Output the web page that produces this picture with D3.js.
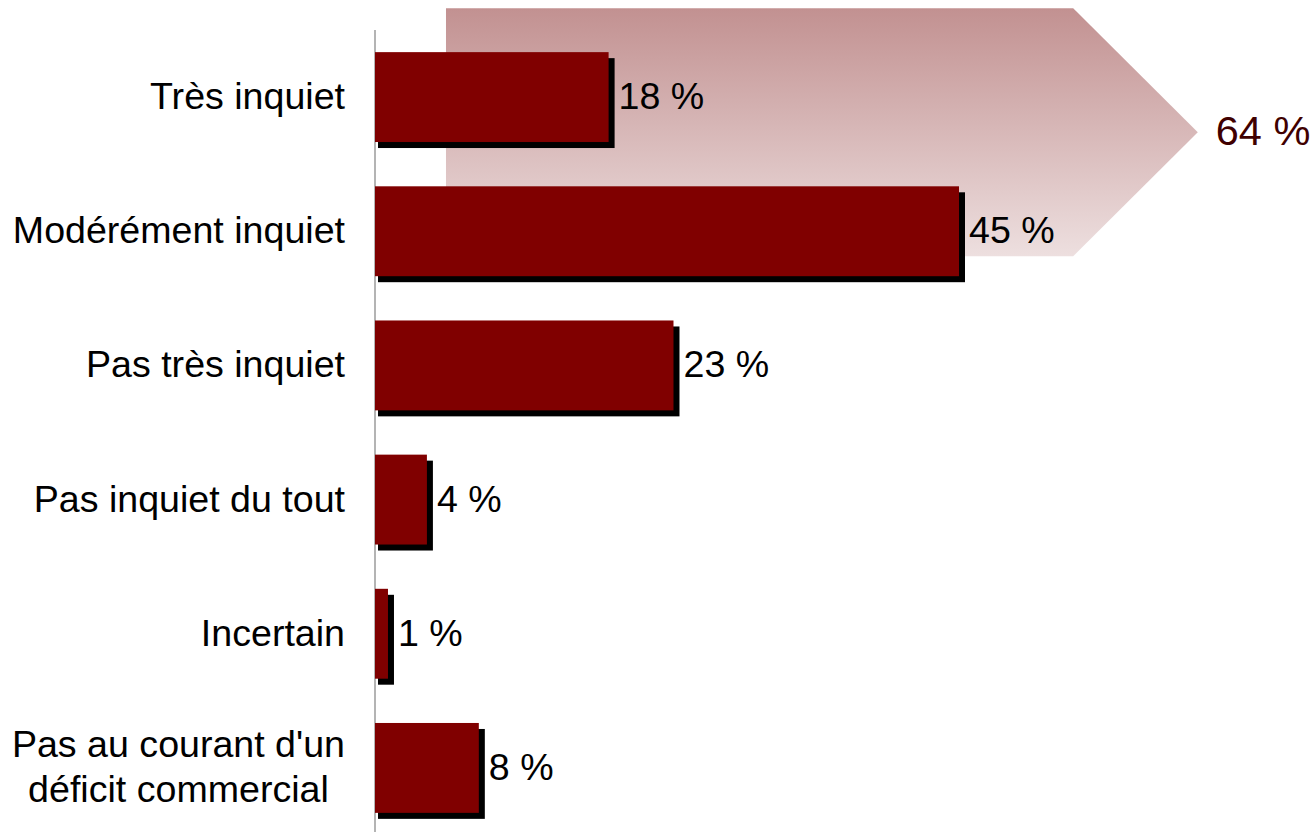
<!DOCTYPE html>
<html>
<head>
<meta charset="utf-8">
<script src="https://cdn.jsdelivr.net/npm/d3@7"></script>
<style>
    body { margin: 0; background: #fff; }
    svg { display: block; font-family: "Liberation Sans", Arial, sans-serif; }
</style>
</head>
<body>
<svg id="chart" width="1316" height="832"></svg>
<script>
// categories and values
const categories = [
    ["Très inquiet"],
    ["Modérément inquiet"],
    ["Pas très inquiet"],
    ["Pas inquiet du tout"],
    ["Incertain"],
    ["Pas au courant d'un", "déficit commercial"]
];
const values = [18, 45, 23, 4, 1, 8];
const totalLabel = "64 %";
// the arrow groups the first two answers
const groupedIdx = [0, 1];

const svg = d3.select("#chart");
const width = 1316, height = 832;
const x0 = 375;
const fontSize = 37.6;

const x = d3.scaleLinear().domain([0, 45]).range([x0, 959]);
const y = d3.scaleBand()
    .domain(d3.range(categories.length))
    .range([30, 835])
    .paddingInner(0.33)
    .paddingOuter(0.165);

const shadow = 6;

// gradient arrow behind the first two bars
const defs = svg.append("defs");
const grad = defs.append("linearGradient")
    .attr("id", "arrowGrad")
    .attr("x1", 0).attr("y1", 0).attr("x2", 0).attr("y2", 1);
grad.append("stop").attr("offset", "0%").attr("stop-color", "#c29191");
grad.append("stop").attr("offset", "100%").attr("stop-color", "#eddfdf");

const aTop = y(groupedIdx[0]) - 44;
const aBot = y(groupedIdx[1]) + y.bandwidth() - 20;
const aMid = (aTop + aBot) / 2;
const aLeft = x(5.47), aBody = x(53.8), aTip = x(63.4);
svg.append("polygon")
    .attr("points", [[aLeft, aTop], [aBody, aTop], [aTip, aMid], [aBody, aBot], [aLeft, aBot]]
        .map(p => p.join(",")).join(" "))
    .attr("fill", "url(#arrowGrad)");

svg.append("text")
    .attr("x", aTip + 18)
    .attr("y", aMid + 13)
    .attr("font-size", 41.5)
    .attr("fill", "#400000")
    .text(totalLabel);

// axis line
svg.append("line")
    .attr("x1", x0).attr("x2", x0)
    .attr("y1", 30).attr("y2", height)
    .attr("stroke", "#b4b4b4")
    .attr("stroke-width", 2);

// shadows
svg.selectAll("rect.shadow")
    .data(values)
    .join("rect")
    .attr("class", "shadow")
    .attr("x", x(0) + shadow - 3)
    .attr("y", (d, i) => y(i) + shadow)
    .attr("width", d => x(d) - x(0) + 3)
    .attr("height", y.bandwidth())
    .attr("fill", "#000");

// bars
svg.selectAll("rect.bar")
    .data(values)
    .join("rect")
    .attr("class", "bar")
    .attr("x", x(0))
    .attr("y", (d, i) => y(i))
    .attr("width", d => x(d) - x(0))
    .attr("height", y.bandwidth())
    .attr("fill", "#800000");

// value labels
svg.selectAll("text.value")
    .data(values)
    .join("text")
    .attr("class", "value")
    .attr("x", d => x(d) + shadow + 4)
    .attr("y", (d, i) => y(i) + y.bandwidth() / 2 + 12)
    .attr("font-size", fontSize)
    .attr("fill", "#000")
    .text(d => d + " %");

// category labels (multi-line ones centred on each other, block right-aligned)
const labelRight = 345;
const lineH = 45;
categories.forEach((lines, i) => {
    const g = svg.append("g");
    const cy = y(i) + y.bandwidth() / 2;
    const texts = lines.map((t, k) => g.append("text")
        .attr("font-size", fontSize)
        .attr("fill", "#000")
        .attr("y", cy + 12 + (k - (lines.length - 1) / 2) * lineH)
        .text(t));
    const widths = texts.map(t => t.node().getComputedTextLength());
    const maxW = d3.max(widths);
    texts.forEach((t, k) => t.attr("x", labelRight - maxW / 2 - widths[k] / 2));
});
</script>
</body>
</html>
